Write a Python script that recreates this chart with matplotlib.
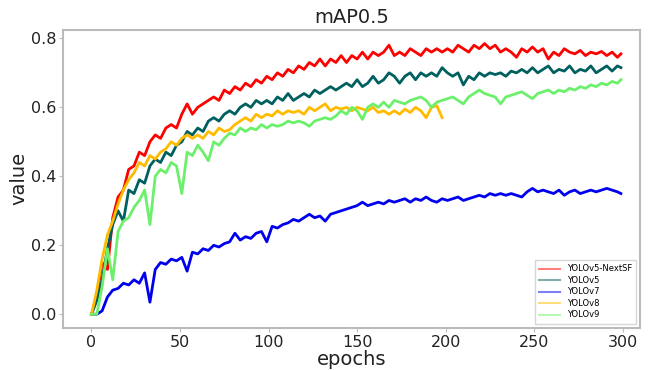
import matplotlib
matplotlib.use("Agg")
import matplotlib.pyplot as plt

nextsf = [0.00, 0.05, 0.15, 0.13, 0.28, 0.34, 0.36, 0.42, 0.43, 0.47, 0.46, 0.50, 0.52, 0.51,
          0.54, 0.55, 0.54, 0.58, 0.61, 0.58, 0.60, 0.61, 0.62, 0.63, 0.62, 0.65, 0.64, 0.66,
          0.65, 0.67, 0.66, 0.68, 0.67, 0.69, 0.68, 0.70, 0.69, 0.71, 0.70, 0.72, 0.71, 0.73,
          0.72, 0.74, 0.72, 0.74, 0.73, 0.75, 0.73, 0.75, 0.74, 0.76, 0.74, 0.76, 0.75, 0.76,
          0.78, 0.75, 0.76, 0.75, 0.77, 0.76, 0.75, 0.77, 0.76, 0.77, 0.76, 0.77, 0.76, 0.78,
          0.77, 0.76, 0.78, 0.77, 0.785, 0.77, 0.78, 0.76, 0.77, 0.76, 0.745, 0.77, 0.76, 0.775,
          0.76, 0.77, 0.74, 0.76, 0.75, 0.77, 0.76, 0.755, 0.765, 0.75, 0.76, 0.755, 0.762,
          0.75, 0.76, 0.745, 0.755]
yolov5 = [0.00, 0.04, 0.10, 0.19, 0.26, 0.30, 0.27, 0.36, 0.35, 0.39, 0.38, 0.43, 0.45, 0.44,
          0.47, 0.46, 0.49, 0.50, 0.53, 0.52, 0.54, 0.53, 0.56, 0.57, 0.56, 0.58, 0.59, 0.58,
          0.60, 0.61, 0.60, 0.62, 0.61, 0.62, 0.61, 0.63, 0.62, 0.64, 0.62, 0.63, 0.64, 0.63,
          0.65, 0.64, 0.65, 0.66, 0.65, 0.66, 0.67, 0.66, 0.68, 0.66, 0.67, 0.69, 0.67, 0.68,
          0.70, 0.69, 0.67, 0.69, 0.70, 0.68, 0.70, 0.69, 0.70, 0.69, 0.715, 0.70, 0.69, 0.70,
          0.665, 0.69, 0.68, 0.70, 0.69, 0.70, 0.695, 0.70, 0.69, 0.705, 0.70, 0.71, 0.70, 0.715,
          0.70, 0.71, 0.72, 0.70, 0.71, 0.705, 0.72, 0.70, 0.71, 0.705, 0.72, 0.70, 0.71, 0.72,
          0.705, 0.72, 0.715]
yolov7 = [0.00, 0.00, 0.01, 0.05, 0.07, 0.075, 0.09, 0.085, 0.10, 0.09, 0.12, 0.035, 0.13,
          0.15, 0.145, 0.16, 0.155, 0.165, 0.125, 0.18, 0.175, 0.19, 0.185, 0.20, 0.195, 0.205,
          0.21, 0.235, 0.215, 0.225, 0.22, 0.235, 0.24, 0.21, 0.255, 0.25, 0.26, 0.265, 0.275,
          0.27, 0.28, 0.29, 0.28, 0.285, 0.27, 0.29, 0.295, 0.30, 0.305, 0.31, 0.315, 0.325,
          0.315, 0.32, 0.325, 0.32, 0.33, 0.325, 0.33, 0.335, 0.325, 0.335, 0.33, 0.34, 0.33,
          0.325, 0.335, 0.33, 0.335, 0.34, 0.33, 0.335, 0.34, 0.345, 0.34, 0.35, 0.345, 0.35,
          0.345, 0.35, 0.345, 0.34, 0.355, 0.365, 0.355, 0.36, 0.355, 0.35, 0.36, 0.345, 0.355,
          0.36, 0.35, 0.355, 0.36, 0.355, 0.36, 0.365, 0.36, 0.355, 0.35]
yolov8 = [0.00, 0.07, 0.16, 0.23, 0.27, 0.32, 0.36, 0.39, 0.41, 0.44, 0.43, 0.46, 0.45, 0.47,
          0.48, 0.50, 0.49, 0.51, 0.52, 0.51, 0.52, 0.51, 0.53, 0.52, 0.54, 0.53, 0.535, 0.55,
          0.56, 0.57, 0.56, 0.58, 0.57, 0.58, 0.575, 0.59, 0.58, 0.59, 0.585, 0.59, 0.58, 0.60,
          0.59, 0.60, 0.61, 0.59, 0.60, 0.595, 0.60, 0.59, 0.60, 0.595, 0.59, 0.60, 0.585, 0.59,
          0.58, 0.59, 0.58, 0.595, 0.585, 0.60, 0.59, 0.57, 0.60, 0.605, 0.57]
yolov9 = [0.00, 0.00, 0.08, 0.19, 0.10, 0.24, 0.27, 0.28, 0.31, 0.33, 0.36, 0.26, 0.40, 0.42,
          0.41, 0.44, 0.43, 0.35, 0.47, 0.46, 0.49, 0.47, 0.445, 0.50, 0.49, 0.51, 0.525, 0.52,
          0.54, 0.53, 0.54, 0.535, 0.55, 0.54, 0.55, 0.545, 0.55, 0.56, 0.555, 0.56, 0.555,
          0.545, 0.56, 0.565, 0.57, 0.565, 0.575, 0.59, 0.58, 0.60, 0.59, 0.565, 0.60, 0.61,
          0.60, 0.615, 0.60, 0.62, 0.615, 0.61, 0.62, 0.625, 0.63, 0.62, 0.60, 0.615, 0.62,
          0.625, 0.63, 0.62, 0.61, 0.63, 0.64, 0.65, 0.64, 0.635, 0.63, 0.61, 0.63, 0.635, 0.64,
          0.645, 0.635, 0.625, 0.64, 0.645, 0.65, 0.64, 0.65, 0.645, 0.655, 0.65, 0.66, 0.655,
          0.665, 0.66, 0.67, 0.665, 0.675, 0.67, 0.68]

series = [("YOLOv5-NextSF", nextsf, "#ff0000"),
          ("YOLOv5", yolov5, "#005f5f"),
          ("YOLOv7", yolov7, "#0000ee"),
          ("YOLOv8", yolov8, "#ffbb00"),
          ("YOLOv9", yolov9, "#6cf06c")]


def epochs_for(vals, step=3, last=299):
    return [min(i * step, last) for i in range(len(vals))]


fig = plt.figure(figsize=(6.72, 3.70), dpi=100)
ax = fig.add_axes([0.094, 0.114, 0.859, 0.805])

for name, vals, color in series:
    ax.plot(epochs_for(vals), vals, color=color, lw=2.0, label=name)

ax.set_xlim(-16, 310)
ax.set_title("mAP0.5", fontsize=14, color="#222222", pad=5)
ax.set_xlabel("epochs", fontsize=14, color="#222222", labelpad=0)
ax.set_ylabel("value", fontsize=14, color="#222222", labelpad=2)
ax.set_xticks([0, 50, 100, 150, 200, 250, 300])
ax.set_yticks([0.0, 0.2, 0.4, 0.6, 0.8])
ax.tick_params(labelsize=11.5, colors="#bbbbbb", labelcolor="#222222", length=3, pad=2)
for sp in ax.spines.values():
    sp.set_color("#bbbbbb")
    sp.set_linewidth(1.5)

leg = ax.legend(loc="lower right", fontsize=6, frameon=True, edgecolor="#cccccc",
                fancybox=False, handlelength=2.5, borderpad=0.5, labelspacing=0.3)
for line in leg.get_lines():
    line.set_alpha(0.5)
    line.set_linewidth(1.5)

fig.savefig("out.png", dpi=100)
